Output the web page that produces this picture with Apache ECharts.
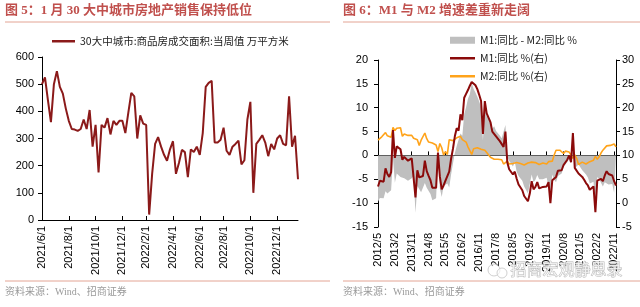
<!DOCTYPE html>
<html>
<head>
<meta charset="utf-8">
<script src="https://cdn.jsdelivr.net/npm/echarts@6/dist/echarts.min.js"></script>
<style>
  html, body { margin: 0; padding: 0; background: #fff; }
  #chart { width: 640px; height: 307px; }
</style>
</head>
<body>
<div id="chart"></div>
<script>
// Figure 5: weekly sales area, 30 large & mid cities (万平方米), weeks from 2021/6/1
const salesStart = "2021-06-01";
const salesValues = [
  500, 525, 440, 360, 500, 548, 490, 465, 410, 365,
  335, 333, 328, 335, 370, 335, 405, 270, 350, 175,
  350, 340, 375, 315, 365, 350, 365, 365, 320, 395,
  468, 455, 300, 385, 355, 350, 20, 170, 280, 305,
  270, 240, 218, 260, 290, 170, 210, 258, 250, 158,
  260, 250, 270, 240, 320, 490, 505, 512, 285, 285,
  295, 340, 255, 240, 270, 280, 292, 205, 220, 370,
  435, 100, 280, 295, 312, 285, 235, 280, 260, 300,
  312, 280, 275, 455, 270, 310, 150
];

// Figure 6: M1 / M2 yoy (%), monthly from 2012/5 to 2022/12
const moneyStart = [2012, 5];
const m1Values = [
  3.5, 4.7, 4.6, 4.5, 7.3, 6.1, 5.5, 6.5,
  15.3, 9.5, 11.9, 11.9, 11.3, 9.1, 9.7, 9.9, 8.9, 8.9, 9.4, 9.3,
  1.2, 6.9, 5.4, 5.5, 5.7, 8.9, 6.7, 5.7, 4.8, 3.2, 3.2, 3.2,
  10.6, 5.6, 2.9, 3.7, 4.7, 4.3, 6.6, 9.3, 11.4, 14.0, 15.7, 15.2,
  18.6, 17.4, 22.1, 22.9, 23.7, 24.6, 25.4, 25.3, 24.7, 23.9, 22.7, 21.4,
  14.5, 21.4, 18.8, 18.5, 17.0, 15.0, 15.3, 14.0, 14.0, 13.0, 12.7, 11.8,
  15.0, 8.5, 7.1, 7.2, 6.0, 6.6, 5.1, 3.9, 4.0, 2.7, 1.5, 1.5,
  0.4, 2.0, 4.6, 2.9, 3.4, 4.4, 3.1, 3.4, 3.4, 3.3, 3.5, 4.4,
  0.0, 4.8, 5.0, 5.5, 6.8, 6.5, 6.9, 8.0, 8.1, 9.1, 10.0, 8.6,
  14.7, 7.4, 7.1, 6.2, 6.1, 5.5, 4.9, 4.2, 3.7, 2.8, 3.0, 3.5,
  -1.9, 4.7, 4.7, 5.1, 4.6, 5.8, 6.7, 6.1, 6.4, 5.8, 4.6, 3.7
];
const m2Values = [
  13.2, 13.6, 13.9, 13.5, 14.8, 14.1, 13.9, 13.8,
  15.9, 15.2, 15.7, 16.1, 15.8, 14.0, 14.5, 14.7, 14.2, 14.3, 14.2, 13.6,
  13.2, 13.3, 12.1, 13.2, 13.4, 14.7, 13.5, 12.8, 12.9, 12.6, 12.3, 12.2,
  10.8, 12.5, 11.6, 10.1, 10.8, 10.2, 13.3, 13.3, 13.1, 13.5, 13.7, 13.3,
  14.0, 13.3, 13.4, 12.8, 11.8, 11.8, 10.2, 11.4, 11.5, 11.6, 11.4, 11.3,
  11.3, 11.1, 10.6, 10.5, 9.6, 9.4, 9.2, 8.9, 9.2, 8.8, 9.1, 8.2,
  8.6, 8.8, 8.2, 8.3, 8.3, 8.0, 8.5, 8.2, 8.3, 8.0, 8.0, 8.1,
  8.4, 8.0, 8.6, 8.5, 8.5, 8.5, 8.1, 8.2, 8.4, 8.4, 8.2, 8.7,
  8.4, 8.8, 10.1, 11.1, 11.1, 11.1, 10.7, 10.4, 10.9, 10.5, 10.7, 10.1,
  9.4, 10.1, 9.4, 8.1, 8.3, 8.6, 8.3, 8.2, 8.3, 8.7, 8.5, 9.0,
  9.8, 9.2, 9.7, 10.5, 11.1, 11.4, 12.0, 12.2, 12.1, 11.8, 12.4, 11.8
];

// category labels
const weekDates = salesValues.map((v, i) => {
  const d = new Date(salesStart + "T00:00:00Z");
  d.setUTCDate(d.getUTCDate() + 7 * i);
  return d.getUTCFullYear() + "/" + (d.getUTCMonth() + 1) + "/" + d.getUTCDate();
});
const months = m1Values.map((v, i) => {
  const k = moneyStart[1] - 1 + i;
  return (moneyStart[0] + Math.floor(k / 12)) + "/" + (k % 12 + 1);
});
// M1 yoy minus M2 yoy
const diffValues = m1Values.map((v, i) => +(v - m2Values[i]).toFixed(1));

const NAME_SALES = "30大中城市:商品房成交面积:当周值 万平方米";
const NAME_DIFF = "M1:同比 - M2:同比 %";
const NAME_M1 = "M1:同比 %(右)";
const NAME_M2 = "M2:同比 %(右)";

const titleColor = "#C0504D";
const ruleColor = "#E3A494";
const axisFont = "Liberation Sans, Arial, sans-serif";
const cjkFont = "Liberation Serif, Noto Sans CJK SC, serif";

// show a label on the first week of every even month
const evenMonthStart = (index, value) => {
  const p = value.split("/").map(Number);
  return p[1] % 2 === 0 && p[2] <= 7;
};

const chart = echarts.init(document.getElementById("chart"));

const baseYAxis = {
  axisLine: { show: true, lineStyle: { color: "#000", width: 1 } },
  axisTick: { show: true, length: 4, lineStyle: { color: "#000" } },
  axisLabel: { color: "#000", fontSize: 11, fontFamily: axisFont },
  splitLine: { show: false },
};

const legendText = { color: "#222", fontSize: 10.5, fontFamily: "Noto Sans CJK SC, sans-serif" };

const option = {
  animation: false,
  backgroundColor: "#fff",
  legend: [
    {
      data: [NAME_SALES], left: 47, top: 31, icon: "rect",
      itemWidth: 23, itemHeight: 2.5, itemGap: 0, textStyle: legendText,
    },
    {
      data: [NAME_DIFF], left: 445, top: 30, icon: "rect",
      itemWidth: 25, itemHeight: 7, textStyle: legendText,
    },
    {
      data: [NAME_M1], left: 445, top: 48, icon: "rect",
      itemWidth: 25, itemHeight: 2.5, textStyle: legendText,
    },
    {
      data: [NAME_M2], left: 445, top: 66, icon: "rect",
      itemWidth: 25, itemHeight: 2.5, textStyle: legendText,
    },
  ],
  grid: [
    { left: 42, top: 57, width: 256, height: 163 },
    { left: 378, top: 60, width: 238, height: 167 },
  ],
  xAxis: [
    {
      gridIndex: 0, type: "category", data: weekDates, boundaryGap: false,
      axisLine: { lineStyle: { color: "#000", width: 1 } },
      axisTick: { inside: true, length: 4, interval: evenMonthStart, lineStyle: { color: "#000" } },
      axisLabel: {
        rotate: 90, interval: evenMonthStart, margin: 6,
        color: "#000", fontSize: 11, fontFamily: axisFont,
        formatter: (v) => { const p = v.split("/"); return p[0] + "/" + p[1] + "/1"; },
      },
    },
    {
      gridIndex: 1, type: "category", data: months, boundaryGap: false, position: "bottom",
      axisLine: { onZero: true, onZeroAxisIndex: 1, lineStyle: { color: "#000", width: 1 } },
      axisTick: { inside: true, length: 4, interval: 8, lineStyle: { color: "#000" } },
      axisLabel: { show: false },
    },
    {
      gridIndex: 1, type: "category", data: months, boundaryGap: false, position: "bottom",
      axisLine: { show: false, onZero: false },
      axisTick: { show: false },
      axisLabel: {
        rotate: 90, interval: 8, margin: 6,
        color: "#000", fontSize: 11, fontFamily: axisFont,
      },
    },
  ],
  yAxis: [
    Object.assign({}, baseYAxis, { gridIndex: 0, type: "value", min: 0, max: 600, interval: 100 }),
    Object.assign({}, baseYAxis, { gridIndex: 1, type: "value", min: -15, max: 20, interval: 5, position: "left",
      axisLabel: Object.assign({}, baseYAxis.axisLabel, { margin: 10 }) }),
    Object.assign({}, baseYAxis, { gridIndex: 1, type: "value", min: -5, max: 30, interval: 5, position: "right",
      axisLabel: Object.assign({}, baseYAxis.axisLabel, { margin: 6 }) }),
  ],
  series: [
    {
      name: NAME_SALES, type: "line", xAxisIndex: 0, yAxisIndex: 0,
      data: salesValues, symbol: "none", color: "#8B1A1A",
      lineStyle: { width: 2, color: "#8B1A1A" },
    },
    {
      name: NAME_DIFF, type: "line", xAxisIndex: 1, yAxisIndex: 1,
      data: diffValues, symbol: "none", color: "#BFBFBF",
      lineStyle: { width: 0 }, areaStyle: { color: "#BFBFBF", opacity: 1 }, z: 1,
    },
    {
      name: NAME_M2, type: "line", xAxisIndex: 1, yAxisIndex: 2,
      data: m2Values, symbol: "none", color: "#FFA31A",
      lineStyle: { width: 1.6, color: "#FFA31A" }, z: 3,
    },
    {
      name: NAME_M1, type: "line", xAxisIndex: 1, yAxisIndex: 2,
      data: m1Values, symbol: "none", color: "#8B0A0A",
      lineStyle: { width: 2, color: "#8B0A0A" }, z: 4,
    },
  ],
  graphic: [
    { type: "text", left: 5, top: 4, style: { text: "图 5：1 月 30 大中城市房地产销售保持低位", fill: titleColor, font: "bold 13px " + cjkFont } },
    { type: "text", left: 343, top: 4, style: { text: "图 6：M1 与 M2 增速差重新走阔", fill: titleColor, font: "bold 13px " + cjkFont } },
    { type: "line", shape: { x1: 5, y1: 22, x2: 330, y2: 22 }, style: { stroke: ruleColor, lineWidth: 1 } },
    { type: "line", shape: { x1: 343, y1: 22, x2: 640, y2: 22 }, style: { stroke: ruleColor, lineWidth: 1 } },
    { type: "line", shape: { x1: 5, y1: 281, x2: 330, y2: 281 }, style: { stroke: ruleColor, lineWidth: 1 } },
    { type: "line", shape: { x1: 343, y1: 281, x2: 640, y2: 281 }, style: { stroke: ruleColor, lineWidth: 1 } },
    { type: "text", left: 5, top: 287, style: { text: "资料来源：Wind、招商证券", fill: "#9a9a9a", font: "10px " + cjkFont } },
    { type: "text", left: 343, top: 287, style: { text: "资料来源：Wind、招商证券", fill: "#9a9a9a", font: "10px " + cjkFont } },
    // watermark
    { type: "circle", z: 100, shape: { cx: 494, cy: 270, r: 6 }, style: { fill: "rgba(255,255,255,0.6)", stroke: "#c4c4c4", lineWidth: 0.8 } },
    { type: "circle", z: 100, shape: { cx: 502, cy: 273, r: 5 }, style: { fill: "rgba(255,255,255,0.6)", stroke: "#c4c4c4", lineWidth: 0.8 } },
    { type: "text", left: 510, top: 261, z: 100, style: { text: "招商宏观静思录", fill: "rgba(255,255,255,0.7)", stroke: "#b4b4b4", lineWidth: 0.8, font: "16px Noto Sans CJK SC, sans-serif" } },
  ],
};

chart.setOption(option);
</script>
</body>
</html>
